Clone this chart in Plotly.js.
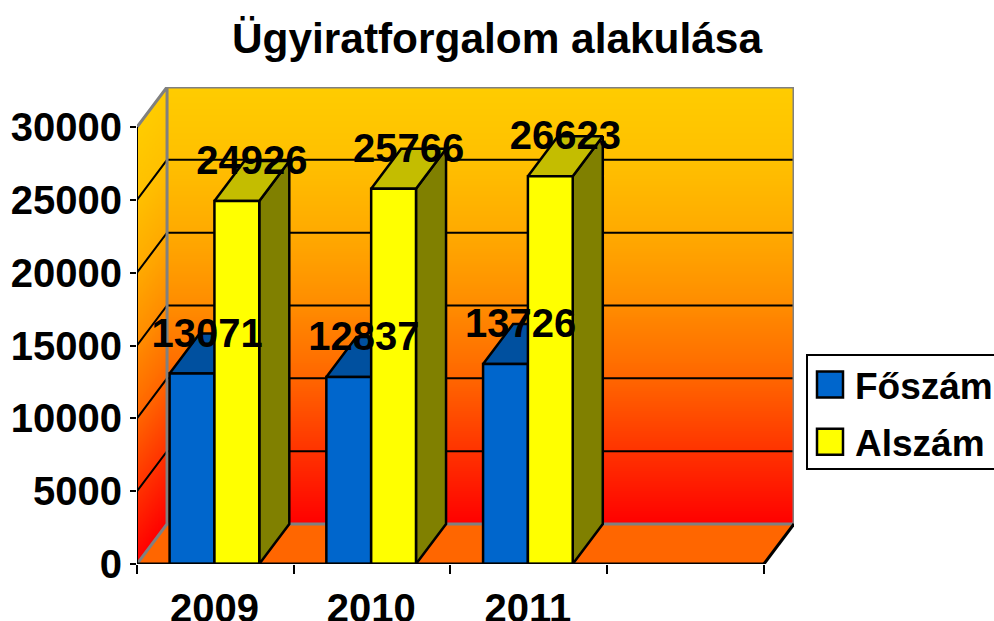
<!DOCTYPE html>
<html><head><meta charset="utf-8">
<script src="https://cdn.plot.ly/plotly-3.0.1.min.js"></script>
<style>html,body{margin:0;padding:0;background:#fff}</style></head>
<body><div id="chart" style="width:994px;height:621px"></div>
<script>
const years = ['2009', '2010', '2011'];
const foszam = [13071, 12837, 13726];
const alszam = [24926, 25766, 26623];
const yTicks = [0, 5000, 10000, 15000, 20000, 25000, 30000];
const slotEdges = [0, 1, 2, 3, 4];
const slotCentres = [0.494, 1.494, 2.494];
// wall gradient: green channel of the orange/red fill at each wall height
const gradLevels = [0, 5000, 10000, 15000, 20000, 25000, 30000];
const gradGreen = [0, 51, 102, 140, 170, 192, 204];

// geometry of the pseudo-3D box, in axis units
const W = 994, H = 621, L = 137, R = 794, T = 87, B = 564;
const pxPerSlot = 156.5, pxPerUnit = 437 / 30000;
const depthPxX = 30, depthPxY = 40;
const dx = depthPxX / pxPerSlot, dy = depthPxY / pxPerUnit;
const xMax = 4 + dx, yMax = 30000 + dy, barW = 0.286;
const labelNudgeY = 3 / pxPerUnit;

function flat(list){ const xs=[], ys=[]; list.forEach(p=>{ p.forEach(q=>{xs.push(q[0]);ys.push(q[1]);}); xs.push(null);ys.push(null);}); return {x:xs,y:ys}; }
function topFace(v, x0){ return [[x0,v],[x0+barW,v],[x0+barW+dx,v+dy],[x0+dx,v+dy],[x0,v]]; }
function sideFace(v, x0){ const x=x0+barW; return [[x,0],[x+dx,dy],[x+dx,v+dy],[x,v],[x,0]]; }
function face(list, color, z){ const f=flat(list); return {type:'scatter',mode:'lines',x:f.x,y:f.y,fill:'toself',fillcolor:color,line:{color:'#000',width:2.5},hoverinfo:'skip',showlegend:false,zorder:z}; }
const labelFont = {family:'Liberation Sans',size:40,weight:700,color:'#000'};
function labels(vals, off){ return {type:'scatter',mode:'text',x:slotCentres.map(c=>c+off+dx/2),y:vals.map(v=>v+dy-labelNudgeY),text:vals.map(String),textposition:'middle center',textfont:labelFont,hoverinfo:'skip',showlegend:false,zorder:5}; }

const traces = [
  face(slotCentres.map((c,i)=>sideFace(foszam[i],c-barW)),'#003f7f',1),
  face(slotCentres.map((c,i)=>topFace(foszam[i],c-barW)),'#00509f',1),
  {type:'bar',name:'Főszám',x:slotCentres,y:foszam,marker:{color:'#0066CC',line:{color:'#000',width:2.5}},zorder:2,legendgroup:'a',hoverinfo:'y'},
  face(slotCentres.map((c,i)=>sideFace(alszam[i],c)),'#808000',3),
  face(slotCentres.map((c,i)=>topFace(alszam[i],c)),'#C4BD00',3),
  {type:'bar',name:'Alszám',x:slotCentres,y:alszam,marker:{color:'#FFFF00',line:{color:'#000',width:2.5}},zorder:4,legendgroup:'b',hoverinfo:'y'},
  labels(foszam,-barW/2),
  labels(alszam,barW/2)
];

function greenAt(v){
  for(let i=1;i<gradLevels.length;i++){
    if(v<=gradLevels[i]){ const t=(v-gradLevels[i-1])/(gradLevels[i]-gradLevels[i-1]); return Math.round(gradGreen[i-1]+t*(gradGreen[i]-gradGreen[i-1])); }
  }
  return gradGreen[gradGreen.length-1];
}
const shapes = [];
const bandStep = 2 / pxPerUnit, bandOverlap = 1.5 / pxPerUnit;
for(let v=30000;v>0;v-=bandStep){
  const lo=Math.max(0,v-bandStep-bandOverlap), col=`rgb(255,${greenAt(v-bandStep/2)},0)`;
  shapes.push({type:'path',path:`M${dx},${v+dy}L${xMax},${v+dy}L${xMax},${lo+dy}L${dx},${lo+dy}Z`,fillcolor:col,line:{width:0},layer:'below'});
  shapes.push({type:'path',path:`M0,${v}L${dx},${v+dy}L${dx},${lo+dy}L0,${lo}Z`,fillcolor:col,line:{width:0},layer:'below'});
}
shapes.push({type:'path',path:`M0,0L${dx},${dy}L${xMax},${dy}L4,0Z`,fillcolor:'#FF6600',line:{width:0},layer:'below'});
yTicks.slice(1,-1).forEach(v=>shapes.push({type:'path',path:`M0,${v}L${dx},${v+dy}L${xMax},${v+dy}`,line:{color:'#000',width:2},layer:'below'}));
shapes.push({type:'path',path:`M0,0L${dx},${dy}L${dx},${yMax}L0,30000`,line:{color:'#808080',width:3},layer:'below'});
shapes.push({type:'path',path:`M${dx},${yMax}L${xMax},${yMax}L${xMax},${dy}L${dx},${dy}`,line:{color:'#808080',width:3},layer:'below'});
shapes.push({type:'line',x0:4,y0:0,x1:xMax,y1:dy,line:{color:'#000',width:3},layer:'below'});
shapes.push({type:'line',x0:0,y0:0,x1:4,y1:0,line:{color:'#000',width:3},layer:'above'});
shapes.push({type:'line',x0:0,y0:0,x1:0,y1:30000,line:{color:'#000',width:2},layer:'below'});
shapes.forEach(s=>{s.xref='x';s.yref='y';});

const tickF = {family:'Liberation Sans',size:40,weight:700,color:'#000'};
const layout = {
  width:W,height:H,paper_bgcolor:'#fff',plot_bgcolor:'rgba(0,0,0,0)',
  margin:{l:L,r:W-R,t:T,b:H-B,pad:0,autoexpand:false},
  title:{text:'Ügyiratforgalom alakulása',font:{family:'Liberation Sans',size:42.4,weight:700,color:'#000'},x:0.5,xanchor:'center',y:0.939,yanchor:'middle'},
  barmode:'group',bargap:0.428,bargroupgap:0,
  xaxis:{type:'linear',range:[0,xMax],tickmode:'array',tickvals:slotCentres,ticktext:years,showgrid:false,zeroline:false,showline:false,ticks:'outside',ticklen:9,tickcolor:'rgba(0,0,0,0)',tickfont:tickF,
    minor:{tickmode:'array',tickvals:slotEdges,ticks:'outside',ticklen:9,tickwidth:2,tickcolor:'#000',showgrid:false}},
  yaxis:{type:'linear',range:[0,yMax],tickmode:'array',tickvals:yTicks,ticktext:yTicks.map(String),showgrid:false,zeroline:false,showline:false,ticks:'outside',ticklen:6,tickwidth:2,tickcolor:'#000',tickfont:tickF},
  legend:{x:1.0183,xanchor:'left',y:0.4444,yanchor:'top',bgcolor:'#fff',bordercolor:'#000',borderwidth:2,font:{family:'Liberation Sans',size:37,weight:700,color:'#000'},traceorder:'grouped',tracegroupgap:6,itemwidth:37,itemclick:false,itemdoubleclick:false},
  shapes:shapes,hovermode:'closest'
};
Plotly.newPlot('chart',traces,layout,{displayModeBar:false,responsive:false}).then(()=>{
  document.querySelectorAll('.legend .legendpoints path').forEach(p=>{
    p.setAttribute('d','M11.5,13H-14.5V-13H11.5Z');
    p.style.strokeWidth='2.5px';
  });
  const lg=document.querySelector('.legend');
  const m=/translate\(([-\d.]+)[ ,]+([-\d.]+)\)/.exec(lg.getAttribute('transform')||'');
  if(m) lg.setAttribute('transform',`translate(806,${m[2]})`);
  const bg=lg.querySelector('.bg');
  if(bg){
    bg.setAttribute('y',String(parseFloat(bg.getAttribute('y')||0)+2));
    bg.setAttribute('height','114');
    bg.setAttribute('width','210');
  }
});
</script></body></html>
